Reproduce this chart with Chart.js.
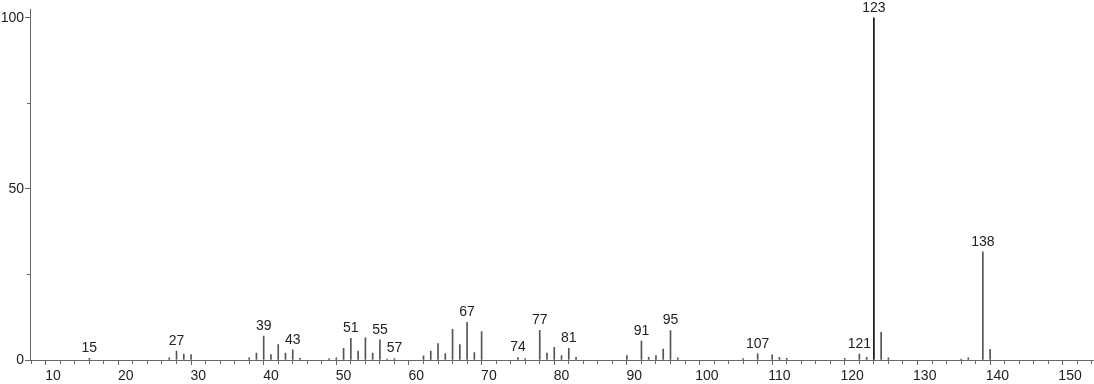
<!DOCTYPE html>
<html lang="en">
<head>
    <meta charset="UTF-8">
    <title>Mass Spectrum</title>
    <script src="https://cdn.jsdelivr.net/npm/chart.js@4.4.0/dist/chart.umd.min.js"></script>
    <style>
        body { margin: 0; background: #fff; }
        #wrap { width: 1094px; height: 384px; position: relative; }
    </style>
</head>
<body>
    <div id="wrap"><canvas id="spectrum"></canvas></div>

    <script>
        // m/z values and relative intensities (%)
        const mz = [15, 26, 27, 28, 29, 37, 38, 39, 40, 41, 42, 43, 44, 48, 49,
                    50, 51, 52, 53, 54, 55, 56, 57, 61, 62, 63, 64, 65, 66, 67, 68, 69,
                    74, 75, 77, 78, 79, 80, 81, 82, 89, 91, 92, 93, 94, 95, 96,
                    105, 107, 109, 110, 111, 119, 121, 122, 123, 124, 125, 135, 136, 138, 139];
        const intensity = [0.5, 0.6, 2.6, 1.7, 1.6, 0.6, 2.0, 7.0, 1.6, 4.5, 2.0, 3.0, 0.5, 0.4, 0.6,
                    3.4, 6.3, 2.6, 6.5, 2.0, 5.9, 0.3, 0.4, 1.2, 2.6, 4.8, 1.9, 9.0, 4.5, 11.0, 2.2, 8.3,
                    0.7, 0.4, 8.7, 2.0, 3.7, 1.3, 3.4, 0.8, 1.3, 5.5, 0.8, 1.3, 3.2, 8.6, 0.6,
                    0.4, 1.8, 1.5, 0.8, 0.5, 0.5, 1.7, 0.8, 100, 8.1, 0.6, 0.3, 0.6, 31.6, 3.1];
        const labeledPeaks = [15, 27, 39, 43, 51, 55, 57, 67, 74, 77, 81, 91, 95, 107, 121, 123, 138];
        const yLabels = [0, 50, 100];

        const font = { family: '"Liberation Sans", Arial, sans-serif', size: 14 };

        const peakLabels = {
            id: 'peakLabels',
            afterDatasetsDraw(chart) {
                const ctx = chart.ctx;
                const meta = chart.getDatasetMeta(0);
                ctx.save();
                ctx.font = font.size + 'px ' + font.family;
                ctx.fillStyle = '#222';
                ctx.textAlign = 'center';
                ctx.textBaseline = 'bottom';
                meta.data.forEach((bar, i) => {
                    if (labeledPeaks.includes(mz[i])) {
                        ctx.fillText(String(mz[i]), bar.x, bar.y - 3);
                    }
                });
                ctx.restore();
            }
        };

        new Chart('spectrum', {
            type: 'bar',
            data: {
                datasets: [{
                    data: mz.map((m, i) => ({ x: m, y: intensity[i] })),
                    backgroundColor: c => (c.raw && c.raw.x === 123) ? '#111' : '#555',
                    barThickness: 1
                }]
            },
            options: {
                responsive: true,
                maintainAspectRatio: false,
                animation: false,
                layout: { padding: 0 },
                plugins: { legend: { display: false }, tooltip: { enabled: false } },
                scales: {
                    x: {
                        type: 'linear',
                        min: 6.83,
                        max: 153.3,
                        offset: false,
                        border: { color: '#666', width: 1 },
                        grid: {
                            drawOnChartArea: false,
                            tickLength: 5,
                            tickColor: '#666',
                            tickBorderDash: c => (c.tick && c.tick.value % 10 === 0) ? [] : [3, 20]
                        },
                        ticks: {
                            stepSize: 2,
                            includeBounds: false,
                            autoSkip: false,
                            maxRotation: 0,
                            padding: 3,
                            color: '#222',
                            font: font,
                            callback: v => v % 10 === 0 ? v : ''
                        },
                        afterFit: s => { s.height = 24; }
                    },
                    y: {
                        min: 0,
                        max: 102.5,
                        border: { color: '#666', width: 1 },
                        grid: {
                            drawOnChartArea: false,
                            tickLength: 5,
                            tickColor: '#666',
                            tickBorderDash: c => (c.tick && yLabels.includes(c.tick.value)) ? [] : [0, 2, 3, 20]
                        },
                        ticks: {
                            stepSize: 25,
                            includeBounds: false,
                            padding: 1,
                            color: '#222',
                            font: font,
                            callback: v => yLabels.includes(v) ? v : ''
                        },
                        afterFit: s => { s.width = 30; }
                    }
                }
            },
            plugins: [peakLabels]
        });
    </script>
</body>
</html>
